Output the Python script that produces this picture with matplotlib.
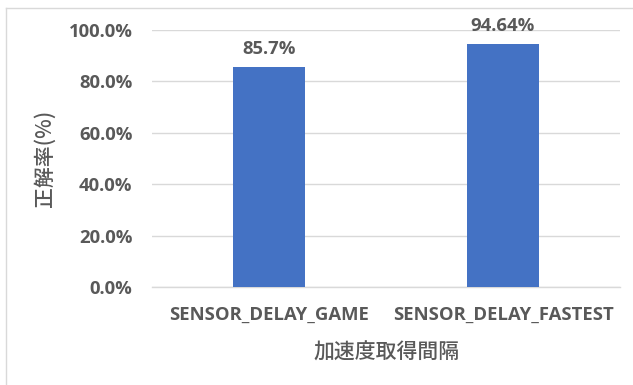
import matplotlib
matplotlib.use("Agg")
import matplotlib.pyplot as plt
from matplotlib.lines import Line2D
from matplotlib.ticker import FuncFormatter

categories = ["SENSOR_DELAY_GAME", "SENSOR_DELAY_FASTEST"]
accuracy = [85.7, 94.64]  # percent
y_ticks = [0, 20, 40, 60, 80, 100]

plt.rcParams["font.family"] = ["Open Sans", "Noto Sans CJK JP", "DejaVu Sans"]
TEXT = "#595959"
GRID = "#D9D9D9"
BAR = "#4472C4"
CJK = ["Noto Sans CJK JP", "DejaVu Sans"]

W, H = 633, 385
fig = plt.figure(figsize=(W / 100, H / 100), dpi=100)
fig.patch.set_facecolor("white")
ax = fig.add_axes([152 / W, 1 - 287 / H, 468 / W, 257 / H])

x = list(range(len(categories)))
ax.bar(x, accuracy, width=0.31, color=BAR, zorder=3)
ax.set_xlim(-0.5, len(categories) - 0.5)
ax.set_ylim(0, 100)
ax.set_yticks(y_ticks)
ax.yaxis.set_major_formatter(FuncFormatter(lambda v, _: f"{v:.1f}%"))
ax.set_xticks(x)
ax.set_xticklabels(categories)

for side in ("top", "right", "left"):
    ax.spines[side].set_visible(False)
ax.spines["bottom"].set_color(GRID)
ax.spines["bottom"].set_linewidth(1.0)
ax.grid(axis="y", color=GRID, linewidth=1.0, zorder=0)
ax.tick_params(length=0, colors=TEXT, labelsize=13.3)
ax.tick_params(axis="y", pad=14)
ax.tick_params(axis="x", pad=13.5)
for lbl in ax.get_xticklabels() + ax.get_yticklabels():
    lbl.set_fontweight("bold")

for xi, v in zip(x, accuracy):
    ax.annotate(f"{v:g}%", (xi, v), xytext=(0, 6), textcoords="offset points",
                ha="center", va="bottom", fontsize=13.3, fontweight="bold", color=TEXT)

ax.set_ylabel("正解率(%)", fontsize=15, color=TEXT, labelpad=9,
              family=CJK, fontweight="medium")
ax.set_xlabel("加速度取得間隔", fontsize=15, color=TEXT, labelpad=13,
              family=CJK, fontweight="medium")

# chart area outline (left and top edges)
fig.add_artist(Line2D([6 / W, 6 / W], [0, 1 - 8 / H], transform=fig.transFigure,
                      color=GRID, linewidth=1.0))
fig.add_artist(Line2D([6 / W, 1], [1 - 8 / H, 1 - 8 / H], transform=fig.transFigure,
                      color=GRID, linewidth=1.0))

fig.savefig("out.png", dpi=100)
